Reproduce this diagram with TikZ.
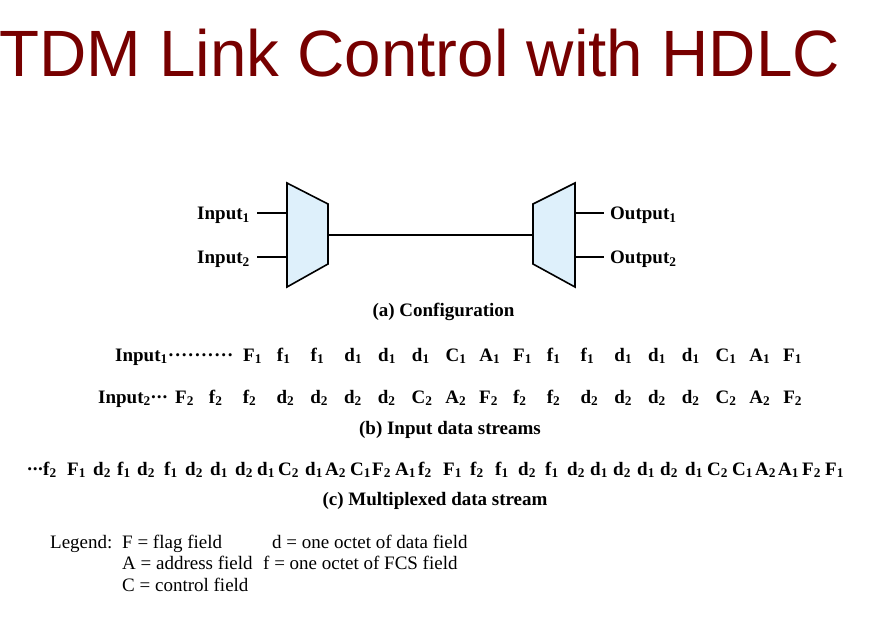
\documentclass[tikz,border=0pt]{standalone}
\usepackage{fontspec}
\setmainfont{Liberation Serif}
\newfontfamily\titlefont{Liberation Sans}

\definecolor{titlered}{RGB}{119,0,0}
\definecolor{muxblue}{RGB}{222,240,251}

% a field symbol with its stream number as subscript
\newcommand\sy[2]{#1\textsubscript{#2}}
% a run of centred dots of given total width and pitch
\newcommand\dotrun[2]{\hbox to #1{\xleaders\hbox to #2{\hss·\hss}\hfill}}

\tikzset{
  lbl/.style={font=\fontsize{19}{22}\selectfont\bfseries, inner sep=0pt},
  txt/.style={font=\fontsize{19}{22}\selectfont, inner sep=0pt},
  mux/.style={draw=black, line width=1.6pt, fill=muxblue, line join=miter},
  wire/.style={line width=1.4pt},
}

\begin{document}
\begin{tikzpicture}[x=1pt,y=-1pt]
\useasboundingbox (0,0) rectangle (888,642);

% title
\node[anchor=base west, inner sep=0pt, text=titlered,
      font=\titlefont\fontsize{65.5}{70}\selectfont] (title) at (-1,76)
      {TDM Link Control with HDLC};

% (a) configuration: multiplexer, link, demultiplexer
\draw[mux] (287,183) -- (328,204) -- (328,264) -- (287,287) -- cycle;
\draw[mux] (575,183) -- (533,204) -- (533,264) -- (575,287) -- cycle;
\coordinate (muxA-in1) at (287,213);
\coordinate (muxA-in2) at (287,257);
\coordinate (muxA-out) at (328,235);
\coordinate (muxB-in)  at (533,235);
\coordinate (muxB-out1) at (575,213);
\coordinate (muxB-out2) at (575,257);

\node[lbl, anchor=east] (in1) at (250,215) {Input\textsubscript{1}};
\node[lbl, anchor=east] (in2) at (250,259) {Input\textsubscript{2}};
\node[lbl, anchor=west] (out1) at (610,215) {Output\textsubscript{1}};
\node[lbl, anchor=west] (out2) at (610,259) {Output\textsubscript{2}};

\draw[wire, shorten <=7pt] (in1.east |- muxA-in1) -- (muxA-in1);
\draw[wire, shorten <=7pt] (in2.east |- muxA-in2) -- (muxA-in2);
\draw[wire] (muxA-out) -- (muxB-in);
\draw[wire, shorten >=6pt] (muxB-out1) -- (out1.west |- muxB-out1);
\draw[wire, shorten >=6pt] (muxB-out2) -- (out2.west |- muxB-out2);

\node[lbl, anchor=base] (capA) at (443.5,316) {(a) Configuration};

% (b) input data streams
\node[lbl, anchor=base east] (s1lab) at (234,361)
      {Input\textsubscript{1}\dotrun{66pt}{6.6pt}};
\foreach \c [count=\i from 0] in {F,f,f,d,d,d,C,A,F,f,f,d,d,d,C,A,F}
  \node[lbl, anchor=base west] (s1-\i) at (243+33.75*\i,361) {\sy{\c}{1}};

\node[lbl, anchor=base east] (s2lab) at (168,403)
      {Input\textsubscript{2}\dotrun{17pt}{5.6pt}};
\foreach \c [count=\i from 0] in {F,f,f,d,d,d,d,C,A,F,f,f,d,d,d,d,C,A,F}
  \node[lbl, anchor=base west] (s2-\i) at (175+33.78*\i,403) {\sy{\c}{2}};

\node[lbl, anchor=base] (capB) at (450,434) {(b) Input data streams};

% (c) multiplexed data stream
\node[lbl, anchor=base west] (mxdots) at (27,475) {\dotrun{16pt}{5.3pt}};
\foreach \c/\n/\x [count=\i] in {
  f/2/43, F/1/67, d/2/93, f/1/117, d/2/137, f/1/164, d/2/185, d/1/210,
  d/2/235, d/1/257, C/2/278, d/1/305, A/2/325, C/1/350, F/2/372, A/1/395,
  f/2/418, F/1/443, f/2/470, f/1/495, d/2/518, f/1/545, d/2/567, d/1/590,
  d/2/613, d/1/637, d/2/660, d/1/685, C/2/707, C/1/732, A/2/755, A/1/778,
  F/2/802, F/1/825}
  \node[lbl, anchor=base west] (mx-\i) at (\x,475) {\sy{\c}{\n}};

\node[lbl, anchor=base] (capC) at (435,505) {(c) Multiplexed data stream};

% legend
\node[txt, anchor=base west] (leg)  at (50,548)  {Legend:};
\node[txt, anchor=base west] (legF) at (122,548) {F = flag field};
\node[txt, anchor=base west] (legA) at (122,569.5) {A = address field};
\node[txt, anchor=base west] (legC) at (122,591) {C = control field};
\node[txt, anchor=base west] (legd) at (272,548) {d = one octet of data field};
\node[txt, anchor=base west] (legf) at (263,569.5) {f = one octet of FCS field};
\end{tikzpicture}
\end{document}
